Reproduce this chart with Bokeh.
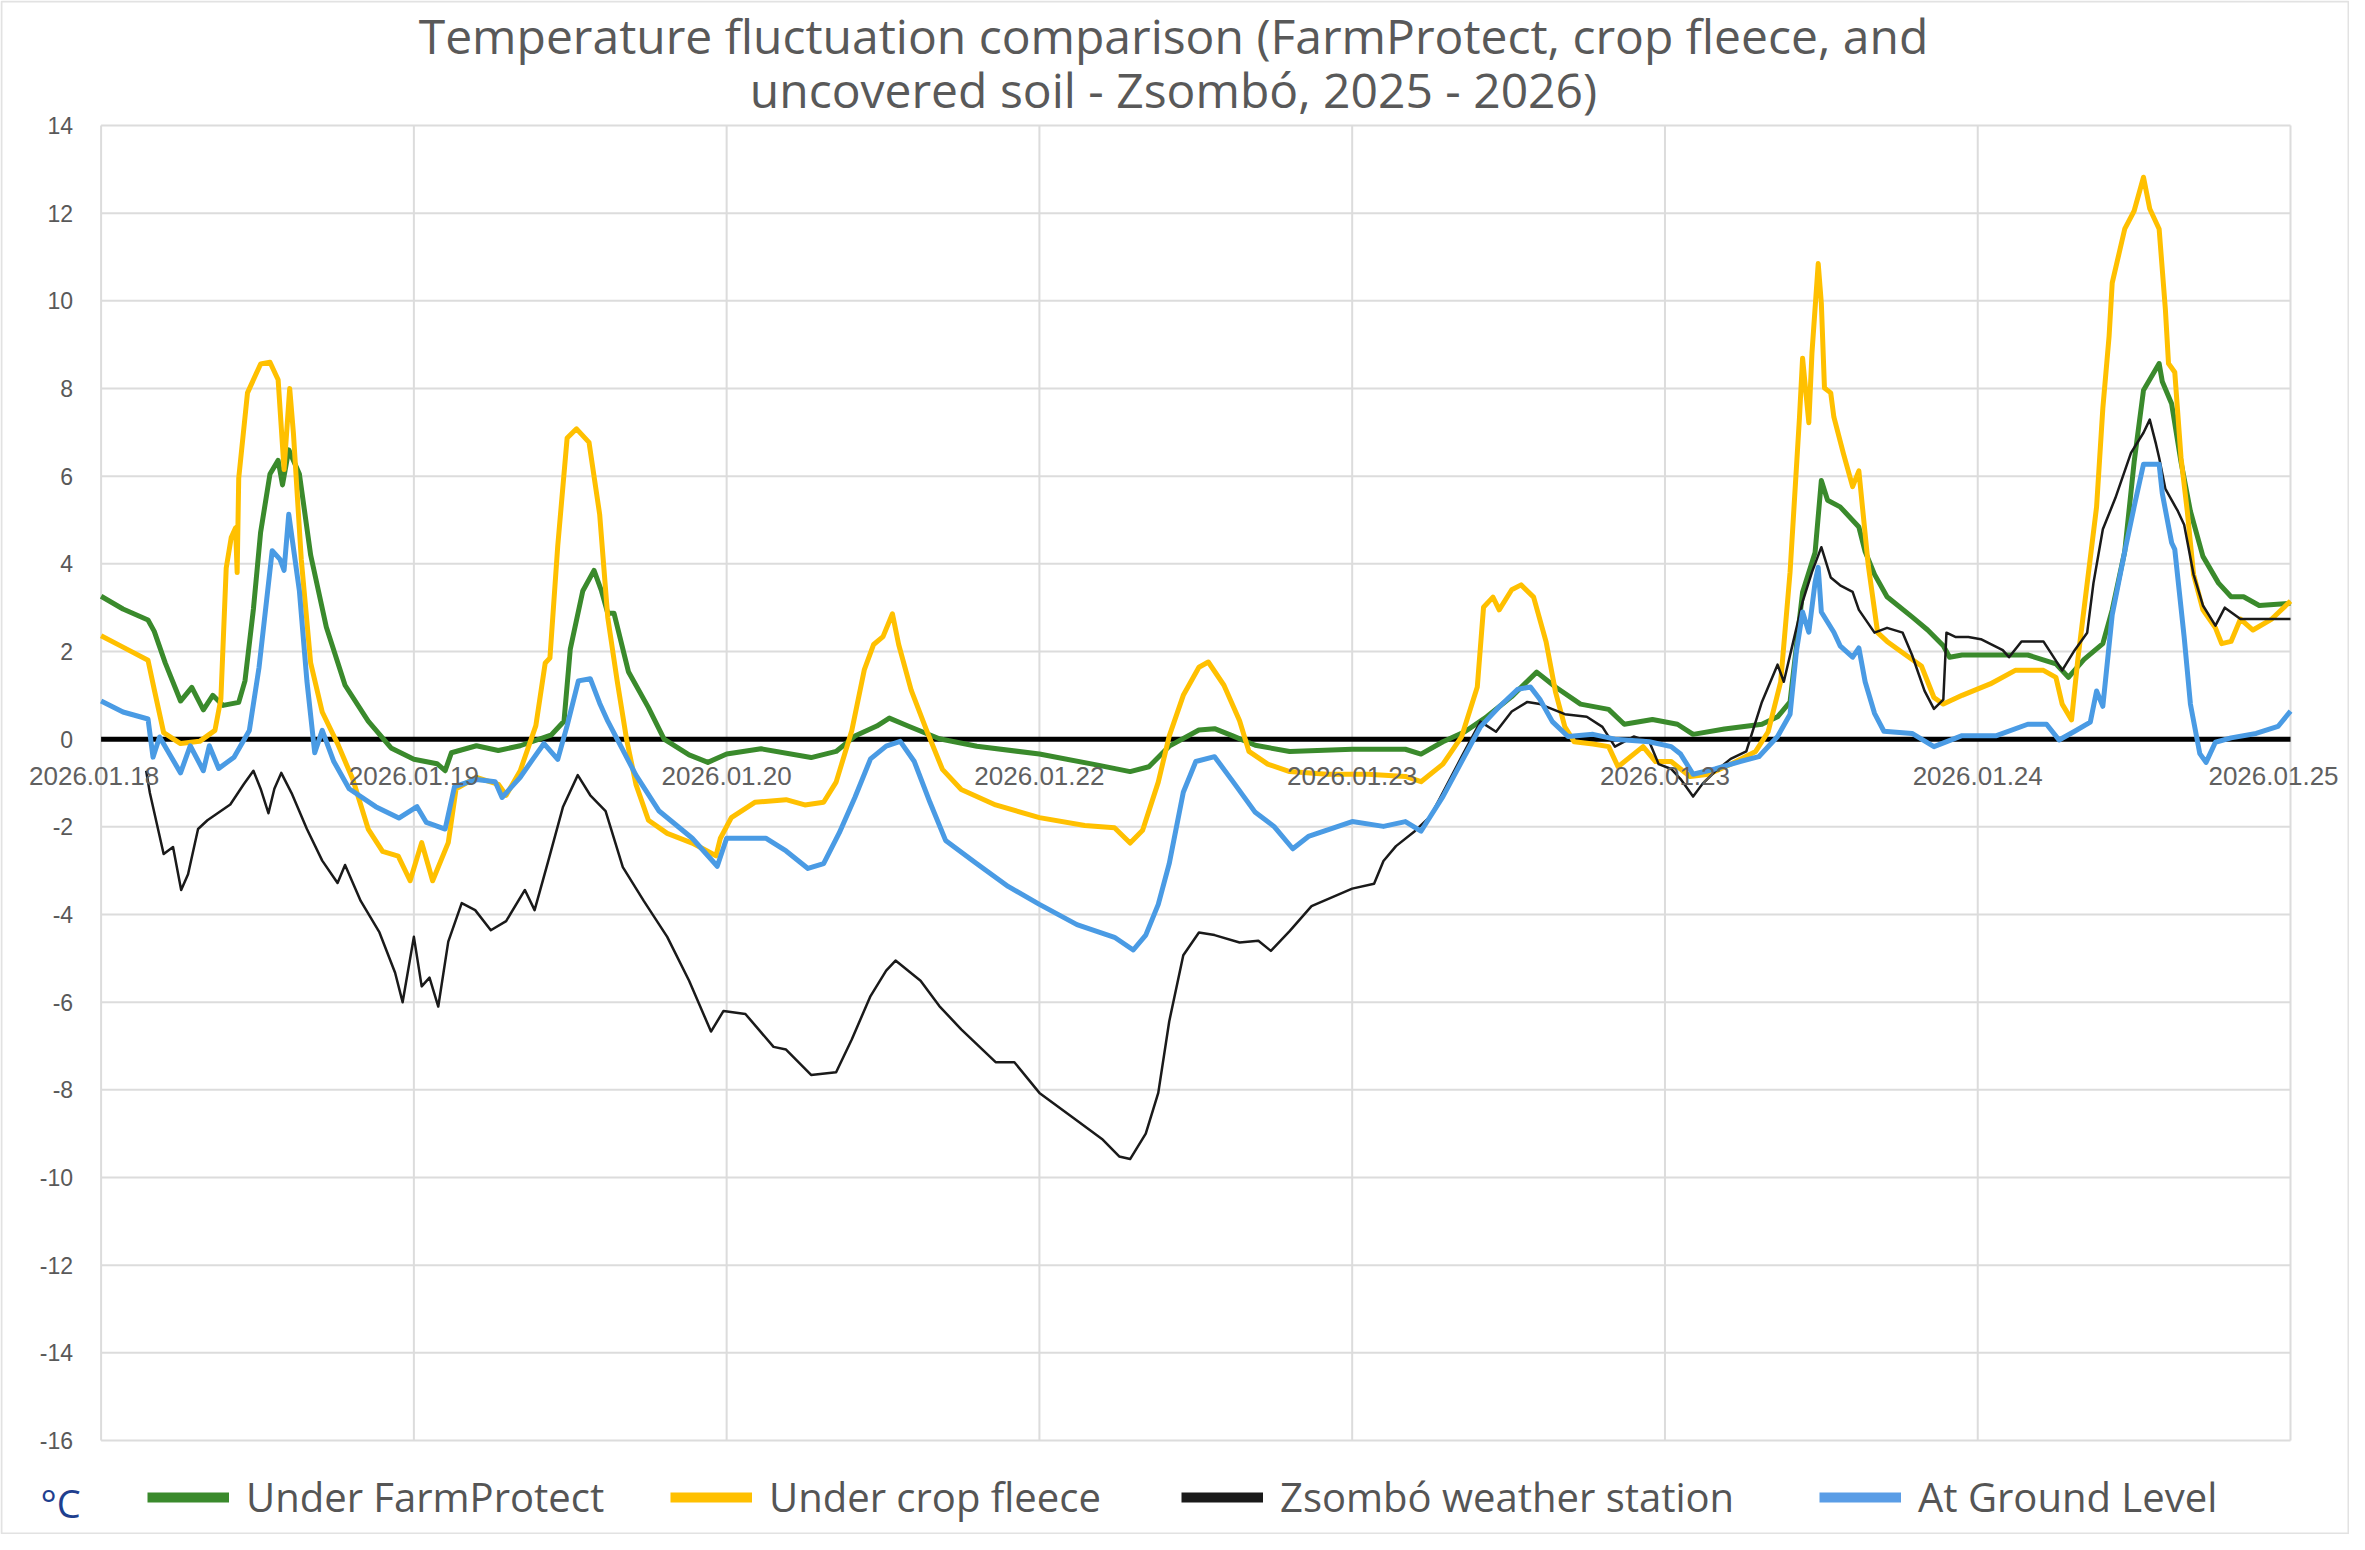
import math
from bokeh.plotting import figure
from bokeh.models import (Range1d, Legend, LegendItem, LabelSet, ColumnDataSource, Label)
from bokeh.core.properties import value
from bokeh.embed import file_html
from bokeh.resources import INLINE

# ---------------- data (x in days since 2026.01.18 00:00, temperature in °C) -------------
title_lines = ["Temperature fluctuation comparison (FarmProtect, crop fleece, and",
               "uncovered soil - Zsombó, 2025 - 2026)"]
x_tick_pos = [0, 1, 2, 3, 4, 5, 6, 7]
x_tick_labels = ["2026.01.18", "2026.01.19", "2026.01.20", "2026.01.22",
                 "2026.01.23", "2026.01.23", "2026.01.24", "2026.01.25"]
y_ticks = [-16, -14, -12, -10, -8, -6, -4, -2, 0, 2, 4, 6, 8, 10, 12, 14]
unit_label = "°C"
series_names = ["Under FarmProtect", "Under crop fleece", "Zsombó weather station", "At Ground Level"]

green_x = [0, 0.07, 0.15, 0.17, 0.205, 0.254, 0.29, 0.327, 0.357, 0.39, 0.44, 0.46, 0.487, 0.51,
           0.54, 0.566, 0.58, 0.6, 0.634, 0.67, 0.72, 0.78, 0.854, 0.927, 1.0, 1.074, 1.1, 1.12,
           1.2, 1.27, 1.34, 1.44, 1.48, 1.5, 1.54, 1.576, 1.6, 1.62, 1.64, 1.686, 1.75, 1.80, 1.88,
           1.94, 2.0, 2.11, 2.27, 2.35, 2.41, 2.48, 2.52, 2.58, 2.68, 2.8, 3.0, 3.17, 3.29, 3.35,
           3.415, 3.51, 3.56, 3.62, 3.69, 3.8, 4.0, 4.17, 4.22, 4.29, 4.36, 4.43, 4.51, 4.59, 4.65,
           4.73, 4.82, 4.87, 4.96, 5.04, 5.09, 5.19, 5.31, 5.36, 5.4, 5.42, 5.44, 5.48, 5.5, 5.52,
           5.56, 5.62, 5.64, 5.67, 5.71, 5.79, 5.84, 5.89, 5.91, 5.95, 6.06, 6.16, 6.25, 6.29, 6.34,
           6.4, 6.43, 6.47, 6.5, 6.53, 6.58, 6.59, 6.62, 6.65, 6.68, 6.72, 6.77, 6.81, 6.85, 6.9, 7.0]
green_t = [3.26, 2.97, 2.72, 2.46, 1.74, 0.87, 1.18, 0.67, 1.0, 0.77, 0.84, 1.33, 2.97, 4.72,
           6.05, 6.36, 5.8, 6.6, 6.05, 4.2, 2.56, 1.23, 0.41, -0.2, -0.46, -0.56, -0.72, -0.31,
           -0.15, -0.26, -0.15, 0.1, 0.41, 2.05, 3.38, 3.85, 3.38, 2.87, 2.87, 1.54, 0.72, 0.0, -0.36,
           -0.53, -0.34, -0.22, -0.42, -0.28, 0.07, 0.3, 0.48, 0.3, 0.01, -0.16, -0.34, -0.57, -0.74, -0.63,
           -0.16, 0.21, 0.24, 0.07, -0.14, -0.28, -0.23, -0.23, -0.34, -0.06, 0.17, 0.51, 0.97, 1.53, 1.19,
           0.8, 0.68, 0.34, 0.45, 0.34, 0.11, 0.23, 0.34, 0.51, 0.85, 2.1, 3.35, 4.26, 5.9, 5.45,
           5.3, 4.84, 4.28, 3.76, 3.25, 2.79, 2.49, 2.13, 1.87, 1.92, 1.92, 1.92, 1.72, 1.41, 1.82,
           2.18, 2.95, 4.28, 6.32, 7.96, 8.57, 8.16, 7.65, 6.32, 5.2, 4.17, 3.56, 3.25, 3.25, 3.05, 3.1]

yellow_x = [0, 0.07, 0.15, 0.17, 0.2, 0.254, 0.315, 0.364, 0.383, 0.4, 0.416, 0.43, 0.435, 0.44,
            0.468, 0.51, 0.54, 0.566, 0.585, 0.603, 0.615, 0.64, 0.67, 0.707, 0.756, 0.805, 0.854,
            0.9, 0.95, 0.988, 1.025, 1.06, 1.11, 1.135, 1.2, 1.27, 1.295, 1.34, 1.39, 1.42, 1.435,
            1.46, 1.49, 1.52, 1.56, 1.594, 1.62, 1.65, 1.68, 1.71, 1.75, 1.81,
            1.89, 1.966, 1.98, 2.015, 2.09, 2.19, 2.25, 2.31, 2.35, 2.4, 2.44, 2.47, 2.5, 2.53, 2.55,
            2.59, 2.64, 2.69, 2.75, 2.86, 3.0, 3.145, 3.24, 3.29, 3.33, 3.38, 3.415, 3.46, 3.51, 3.54,
            3.59, 3.64, 3.67, 3.73, 3.8, 3.92, 4.05, 4.17, 4.22, 4.29, 4.35, 4.4, 4.42, 4.45, 4.47,
            4.51, 4.54, 4.58, 4.62, 4.65, 4.68, 4.71, 4.77, 4.82, 4.85, 4.9, 4.93, 4.97, 5.02, 5.08,
            5.14, 5.21, 5.29, 5.33, 5.37, 5.4, 5.43, 5.44, 5.46, 5.47, 5.49, 5.5, 5.51, 5.53,
            5.54, 5.57, 5.6, 5.62, 5.63, 5.65, 5.68, 5.71, 5.77, 5.82, 5.86, 5.89, 5.95, 6.04, 6.12,
            6.21, 6.25, 6.27, 6.3, 6.32, 6.35, 6.38, 6.4, 6.42, 6.43, 6.47, 6.5, 6.53, 6.55, 6.58,
            6.6, 6.61, 6.63, 6.65, 6.67, 6.69, 6.72, 6.76, 6.78, 6.81, 6.84, 6.88, 6.94, 7.0]
yellow_t = [2.36, 2.1, 1.8, 1.13, 0.15, -0.1, -0.05, 0.2, 0.92, 3.9, 4.6, 4.82, 3.8, 5.95,
            7.9, 8.56, 8.6, 8.2, 6.15, 8.0, 6.97, 4.1, 1.74, 0.62, -0.1, -0.92, -2.05,
            -2.56, -2.67, -3.23, -2.36, -3.23, -2.36, -1.13, -0.87, -1.03, -1.28, -0.72, 0.31, 1.74, 1.85,
            4.41, 6.87, 7.08, 6.77, 5.13, 2.77, 1.33, 0.0, -1.03, -1.85, -2.15,
            -2.37, -2.66, -2.26, -1.79, -1.44, -1.38, -1.5, -1.44, -0.98, 0.19, 1.58, 2.16, 2.34, 2.86, 2.16,
            1.12, 0.19, -0.69, -1.15, -1.5, -1.79, -1.97, -2.02, -2.37, -2.08, -0.98, 0.07, 1.0, 1.64, 1.76,
            1.23, 0.42, -0.28, -0.57, -0.74, -0.8, -0.8, -0.85, -0.97, -0.57, 0.06, 1.19, 3.01, 3.24, 2.95,
            3.41, 3.52, 3.24, 2.22, 1.08, 0.28, -0.06, -0.11, -0.17, -0.63, -0.34, -0.17, -0.51, -0.51, -0.85,
            -0.8, -0.57, -0.28, 0.17, 1.31, 3.81, 7.33, 8.69, 7.22, 8.81, 10.85, 9.94, 8.01, 7.9,
            7.35, 6.53, 5.76, 6.12, 5.4, 3.97, 2.43, 2.23, 1.92, 1.67, 0.95, 0.8, 1.0, 1.26, 1.57,
            1.57, 1.41, 0.8, 0.44, 1.82, 3.56, 5.3, 7.55, 9.19, 10.41, 11.64, 12.05, 12.82, 12.1, 11.64,
            9.8, 8.57, 8.37, 6.42, 5.2, 3.76, 2.95, 2.54, 2.18, 2.23, 2.74, 2.49, 2.74, 3.15]

black_x = [0.144, 0.156, 0.2, 0.23, 0.256, 0.278, 0.31, 0.34, 0.413, 0.456, 0.487, 0.51, 0.535,
           0.554, 0.576, 0.609, 0.658, 0.707, 0.756, 0.78, 0.83, 0.89, 0.94, 0.964, 1.0, 1.025, 1.05,
           1.078, 1.11, 1.153, 1.196, 1.246, 1.295, 1.355, 1.386, 1.43, 1.477, 1.524, 1.564, 1.613,
           1.668, 1.735, 1.81, 1.88, 1.95, 1.99, 2.06, 2.15, 2.19, 2.27, 2.35, 2.4, 2.46, 2.51, 2.54,
           2.62, 2.68, 2.75, 2.86, 2.92, 3.0, 3.11, 3.2, 3.255, 3.29, 3.34, 3.38, 3.415, 3.46, 3.51,
           3.56, 3.64, 3.7, 3.74, 3.8, 3.87, 4.0, 4.07, 4.1, 4.14, 4.2, 4.25, 4.3, 4.35, 4.41, 4.46,
           4.51, 4.56, 4.6, 4.68, 4.75, 4.8, 4.84, 4.9, 4.95, 4.98, 5.02, 5.05, 5.09, 5.12, 5.16, 5.21,
           5.26, 5.31, 5.36, 5.38, 5.41, 5.44, 5.47, 5.5, 5.53, 5.56, 5.6, 5.62, 5.67, 5.71, 5.76,
           5.79, 5.83, 5.86, 5.89, 5.9, 5.93, 5.97, 6.01, 6.08, 6.1, 6.14, 6.21, 6.27, 6.31, 6.35,
           6.37, 6.4, 6.44, 6.49, 6.53, 6.55, 6.57, 6.58, 6.6, 6.64, 6.66, 6.69, 6.72, 6.76, 6.79,
           6.84, 6.9, 7.0]
black_t = [-0.72, -1.23, -2.62, -2.46, -3.44, -3.08, -2.05, -1.85, -1.49, -1.03, -0.72, -1.13, -1.69,
           -1.13, -0.77, -1.23, -2.05, -2.77, -3.28, -2.87, -3.69, -4.41, -5.33, -6.0, -4.51, -5.64, -5.44,
           -6.1, -4.62, -3.74, -3.9, -4.36, -4.15, -3.44, -3.9, -2.77, -1.54, -0.82, -1.28, -1.64,
           -2.92, -3.69, -4.51, -5.51, -6.67, -6.2, -6.27, -7.02, -7.08, -7.66, -7.6, -6.85, -5.86, -5.28, -5.05,
           -5.51, -6.09, -6.62, -7.37, -7.37, -8.07, -8.65, -9.12, -9.52, -9.58, -9.0, -8.07, -6.44, -4.93, -4.41,
           -4.47, -4.64, -4.6, -4.83, -4.38, -3.81, -3.41, -3.3, -2.78, -2.44, -2.1, -1.76, -1.08, -0.4, 0.4, 0.17,
           0.63, 0.85, 0.8, 0.57, 0.51, 0.28, -0.17, 0.06, -0.06, -0.57, -0.68, -0.91, -1.31, -1.02, -0.74, -0.45,
           -0.28, 0.85, 1.7, 1.31, 2.22, 3.13, 3.81, 4.38, 3.69, 3.51, 3.36, 2.95, 2.43, 2.54, 2.43,
           1.92, 1.1, 0.69, 0.9, 2.43, 2.33, 2.33, 2.28, 2.03, 1.87, 2.23, 2.23, 1.57, 2.03, 2.43,
           3.56, 4.79, 5.5, 6.53, 6.99, 7.29, 6.73, 6.42, 5.71, 5.2, 4.89, 3.76, 3.05, 2.59, 3.0,
           2.74, 2.74, 2.74]

blue_x = [0, 0.07, 0.15, 0.166, 0.187, 0.254, 0.285, 0.327, 0.346, 0.376, 0.425, 0.474, 0.505,
          0.547, 0.572, 0.585, 0.6, 0.634, 0.658, 0.683, 0.707, 0.744, 0.793, 0.878, 0.952, 1.01,
          1.04, 1.1, 1.13, 1.2, 1.26, 1.282, 1.34, 1.38, 1.416, 1.46, 1.49, 1.526, 1.564, 1.594,
          1.62, 1.65, 1.71, 1.784, 1.82, 1.89, 1.97, 2.0, 2.06, 2.125, 2.19, 2.26, 2.31, 2.36, 2.41,
          2.46, 2.51, 2.555, 2.6, 2.65, 2.7, 2.8, 2.9, 3.0, 3.12, 3.24, 3.3, 3.34, 3.38, 3.415, 3.46,
          3.5, 3.56, 3.62, 3.69, 3.75, 3.81, 3.86, 4.0, 4.1, 4.17, 4.22, 4.29, 4.35, 4.41, 4.47, 4.53,
          4.57, 4.6, 4.64, 4.69, 4.77, 4.84, 4.95, 5.02, 5.05, 5.09, 5.16, 5.24, 5.3, 5.36, 5.4, 5.42,
          5.44, 5.46, 5.48, 5.49, 5.5, 5.54, 5.56, 5.6, 5.62, 5.64, 5.67, 5.7, 5.79, 5.86, 5.95, 6.06,
          6.16, 6.22, 6.26, 6.31, 6.36, 6.38, 6.4, 6.43, 6.47, 6.5, 6.53, 6.58, 6.59, 6.62, 6.63, 6.66,
          6.68, 6.71, 6.73, 6.76, 6.81, 6.89, 6.96, 7.0]
blue_t = [0.87, 0.62, 0.46, -0.41, 0.05, -0.77, -0.15, -0.72, -0.15, -0.67, -0.41, 0.2, 1.64,
          4.3, 4.1, 3.85, 5.13, 3.38, 1.33, -0.31, 0.2, -0.51, -1.13, -1.54, -1.8, -1.54,
          -1.9, -2.05, -1.08, -0.92, -0.97, -1.33, -0.87, -0.46, -0.1, -0.46, 0.31, 1.33, 1.38, 0.82,
          0.41, 0.0, -0.82, -1.64, -1.85, -2.26, -2.9, -2.26, -2.26, -2.26, -2.55, -2.95, -2.84, -2.14, -1.33,
          -0.45, -0.16, -0.05, -0.51, -1.44, -2.31, -2.84, -3.36, -3.77, -4.23, -4.52, -4.81, -4.47, -3.77, -2.84, -1.21,
          -0.51, -0.4, -0.98, -1.67, -1.99, -2.5, -2.22, -1.88, -1.99, -1.88, -2.1, -1.31, -0.51, 0.28, 0.74, 1.14,
          1.19, 0.91, 0.4, 0.06, 0.11, 0.0, -0.06, -0.17, -0.34, -0.8, -0.68, -0.51, -0.4, 0.06, 0.57, 1.99,
          2.9, 2.44, 3.58, 3.92, 2.9, 2.44, 2.13, 1.87, 2.08, 1.31, 0.59, 0.18, 0.13, -0.17, 0.08, 0.08,
          0.34, 0.34, -0.02, 0.18, 0.39, 1.1, 0.75, 2.84, 4.28, 5.3, 6.27, 6.27, 5.61, 4.48, 4.33, 2.33,
          0.8, -0.33, -0.53, -0.07, 0.03, 0.13, 0.29, 0.64]

series_colors = ["#3a8a2c", "#ffc000", "#1a1a1a", "#4a9be4"]
legend_colors = ["#3a8a2c", "#ffc000", "#1a1a1a", "#5a9de6"]

# ---------------- layout (canvas pixels) ----------------
W, H = 2349, 1534
PL, PR, PT, PB = 100.6, 2290.0, 125.0, 1440.0        # plot area inside the canvas
legend_left_px = [147, 670, 1181, 1819]              # left edge of each legend swatch
x_label_shift_px = [-7, 0, 0, 0, 0, 0, 0, -17]       # keeps the end labels on the canvas
title_center_px = [35, 89]                           # vertical centres of the two title lines
x0, x1 = x_tick_pos[0], x_tick_pos[-1]
y0, y1 = y_ticks[0], y_ticks[-1]
kx = (PR - PL) / (x1 - x0)
ky = (PB - PT) / (y1 - y0)


def X(px):
    return x0 + (px - PL) / kx


def Y(py):
    return y1 - (py - PT) / ky


p = figure(width=W, height=H,
           x_range=Range1d(X(0), X(W)), y_range=Range1d(Y(H), Y(0)),
           x_axis_location=None, y_axis_location=None, title=None,
           output_backend="svg", toolbar_location=None,
           min_border=0, min_border_left=0, min_border_right=0, min_border_top=0, min_border_bottom=0,
           background_fill_color="white", border_fill_color="white", outline_line_color=None)
p.grid.visible = False

# outer chart border
p.quad(left=[X(1)], right=[X(W - 1)], top=[Y(1)], bottom=[Y(H - 1)],
       fill_alpha=0, line_color="#e2e2e2", line_width=2)

# grid lines (plot area)
p.segment(x0=[x0] * len(y_ticks), y0=y_ticks, x1=[x1] * len(y_ticks), y1=y_ticks,
          line_color="#dcdcdc", line_width=2)
p.segment(x0=x_tick_pos, y0=[y0] * len(x_tick_pos), x1=x_tick_pos, y1=[y1] * len(x_tick_pos),
          line_color="#dcdcdc", line_width=2)

# zero line
p.line([x0, x1], [0, 0], line_color="black", line_width=5)

# series
xs = [green_x, yellow_x, black_x, blue_x]
ts = [green_t, yellow_t, black_t, blue_t]
widths = [5, 5, 2.5, 5]
for xx, tt, c, w in zip(xs, ts, series_colors, widths):
    p.line(xx, tt, line_color=c, line_width=w, line_join="round")

# y tick labels
ysrc = ColumnDataSource(dict(x=[X(PL - 28)] * len(y_ticks), y=y_ticks, text=[str(t) for t in y_ticks]))
p.add_layout(LabelSet(x="x", y="y", text="text", source=ysrc, text_align="right", text_baseline="middle",
                      text_font=value("Liberation Sans"), text_font_size="23px", text_color="#595959"))

# x tick labels along the zero line
y_lab = 0 - 37 / ky
xsrc = ColumnDataSource(dict(x=x_tick_pos, y=[y_lab] * len(x_tick_pos), text=x_tick_labels,
                             dx=x_label_shift_px))
p.add_layout(LabelSet(x="x", y="y", text="text", source=xsrc, x_offset="dx",
                      text_align="center", text_baseline="middle",
                      text_font=value("Liberation Sans"), text_font_size="26px", text_color="#606060"))

# titles
for line, cy in zip(title_lines, title_center_px):
    p.add_layout(Label(x=X(1173), y=Y(cy), text=line, text_align="center", text_baseline="middle",
                       text_font="Open Sans", text_font_size="48px", text_color="#595959"))

# unit label
p.add_layout(Label(x=X(40), y=Y(1502), text=unit_label, text_align="left", text_baseline="middle",
                   text_font="Open Sans", text_font_size="38px", text_color="#1f3f8f"))

# legend: one single-item legend per series, placed at the reference positions
nan = float("nan")
for name, c, lx in zip(series_names, legend_colors, legend_left_px):
    r = p.line(x=[nan, nan], y=[nan, nan], line_color=c, line_width=10)
    lg = Legend(items=[LegendItem(label=name, renderers=[r])], location=(lx, 10),
                orientation="horizontal", label_text_font="Open Sans", label_text_font_size="40px",
                label_text_color="#555555", glyph_width=82, glyph_height=14, label_standoff=17,
                padding=0, margin=0, border_line_color=None, background_fill_alpha=0)
    p.add_layout(lg)

open("out.html", "w").write(file_html(p, INLINE))
